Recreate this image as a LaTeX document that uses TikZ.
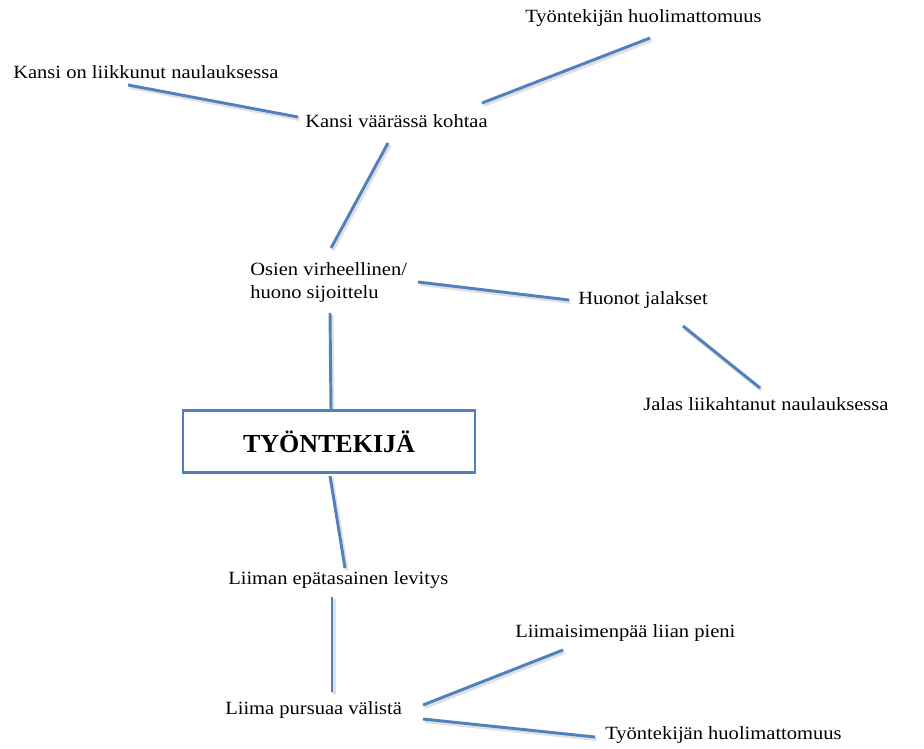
\documentclass[tikz,border=0pt]{standalone}
\usepackage{fontspec}
\setmainfont[FakeStretch=1.1]{Liberation Serif}
\newfontfamily\titlefont{Liberation Serif}
\definecolor{lineblue}{HTML}{4F81BD}
\begin{document}
\begin{tikzpicture}[x=0.75pt,y=-0.75pt,
  lbl/.style={inner sep=0pt,anchor=west,font=\fontsize{14}{17.5}\selectfont},
  conn/.style={draw=lineblue,line width=2.2pt},
  shad/.style={draw=black,opacity=0.12,line width=3pt,transform canvas={shift={(1.2pt,-1.5pt)}}},
  mainbox/.style={draw=lineblue,line width=2.2pt,fill=white,minimum width=219pt,minimum height=47pt,inner sep=0pt,font=\titlefont\bfseries\fontsize{19.5}{22}\selectfont}]
\useasboundingbox (0,0) rectangle (924,749);
% labels
\node[lbl] (th1) at (525,18) {Työntekijän huolimattomuus};
\node[lbl] (kl) at (13,72) {Kansi on liikkunut naulauksessa};
\node[lbl] (kv) at (305,121) {Kansi väärässä kohtaa};
\node[lbl,align=left,anchor=north west] (os) at (250,262) {Osien virheellinen/\\huono sijoittelu};
\node[lbl] (hj) at (578,300) {Huonot jalakset};
\node[lbl] (jl) at (643,404) {Jalas liikahtanut naulauksessa};
\node[mainbox] (ty) at (329,441.5) {TYÖNTEKIJÄ};
\node[lbl] (le) at (228,580) {Liiman epätasainen levitys};
\node[lbl] (lp) at (515,633) {Liimaisimenpää liian pieni};
\node[lbl] (lv) at (225,710) {Liima pursuaa välistä};
\node[lbl] (th2) at (605,735) {Työntekijän huolimattomuus};
% connector end points
\coordinate (a1) at (128,85);  \coordinate (a2) at (298,117);
\coordinate (b1) at (482,103); \coordinate (b2) at (650,38);
\coordinate (c1) at (388,143); \coordinate (c2) at (331,248);
\coordinate (d1) at (418,282); \coordinate (d2) at (569,300);
\coordinate (e1) at (330,313); \coordinate (e2) at (331,410);
\coordinate (f1) at (683,326); \coordinate (f2) at (760,388);
\coordinate (g1) at (330,476); \coordinate (g2) at (345,568);
\coordinate (h1) at (332,597); \coordinate (h2) at (332,692);
\coordinate (i1) at (423,705); \coordinate (i2) at (563,650);
\coordinate (j1) at (423,719); \coordinate (j2) at (595,737);
\foreach \p/\q in {a1/a2,b1/b2,c1/c2,d1/d2,e1/e2,f1/f2,g1/g2,h1/h2,i1/i2,j1/j2}{
  \draw[shad] (\p) -- (\q);
  \draw[conn] (\p) -- (\q);
}
\node[mainbox] at (ty) {TYÖNTEKIJÄ};
\end{tikzpicture}
\end{document}
